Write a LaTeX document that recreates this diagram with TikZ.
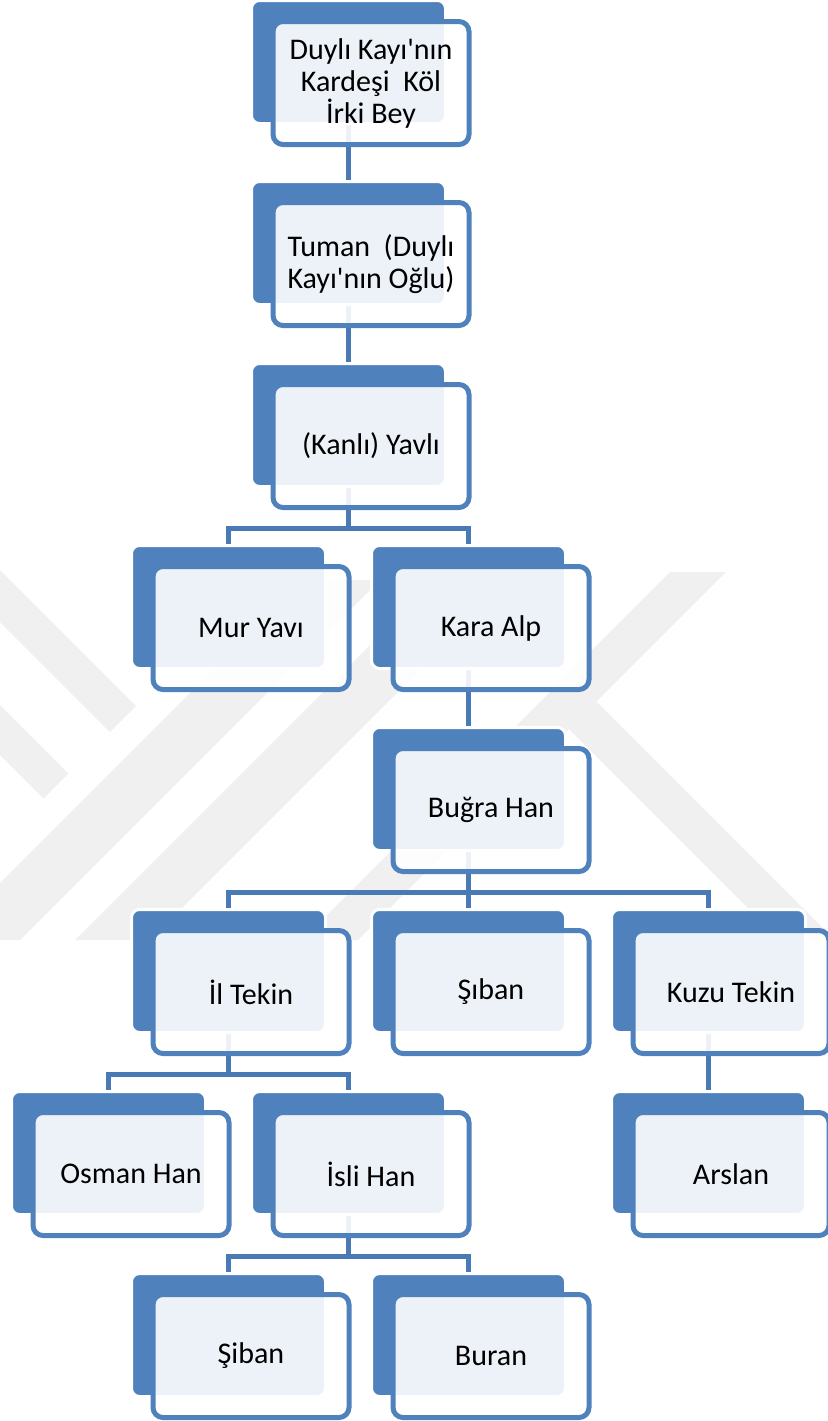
\documentclass[tikz,border=0pt]{standalone}
\usepackage{fontspec}
\setmainfont{Carlito}
\usetikzlibrary{backgrounds}

\definecolor{kayiblue}{HTML}{4F81BD}
\definecolor{kayiline}{HTML}{4A7AB5}
\definecolor{wmgrey}{HTML}{F0F0F0}

\tikzset{
  backbox/.style={rectangle, rounded corners=4pt, minimum width=97pt, minimum height=61.5pt,
    inner sep=0pt, fill=kayiblue, draw=white, line width=1.5pt},
  frontbox/.style={rectangle, rounded corners=5pt, minimum width=98pt, minimum height=61.5pt,
    inner sep=0pt, draw=kayiblue, line width=2.5pt, fill=white, fill opacity=0.9,
    text opacity=1, align=center, font=\fontsize{15}{16}\selectfont},
  link/.style={draw=kayiline, line width=2.5pt},
  wmark/.style={fill=wmgrey, draw=none},
}

\begin{document}
\begin{tikzpicture}[x=0.5pt,y=-0.5pt]
   \useasboundingbox (0,0) rectangle (827,1421);

   % the line of Duyli Kayi
   \node[backbox] (kolB) at (348.5,62) {};
   \node[frontbox] (kol) at (371,83) {Duylı Kayı\textquotesingle nın\\Kardeşi\ \ Köl\\İrki Bey};

   \node[backbox] (tumanB) at (348.5,243) {};
   \node[frontbox] (tuman) at (371,264) {Tuman\ \ (Duylı\\Kayı\textquotesingle nın Oğlu)};

   \node[backbox] (yavliB) at (348.5,425) {};
   \node[frontbox] (yavli) at (371,446) {(Kanlı) Yavlı};

   % sons of Yavli
   \node[backbox] (murB) at (228.5,607) {};
   \node[frontbox] (mur) at (251,628) {Mur Yavı};

   \node[backbox] (karaB) at (468.5,607) {};
   \node[frontbox] (kara) at (491,628) {Kara Alp};

   \node[backbox] (bugraB) at (468.5,789) {};
   \node[frontbox] (bugra) at (491,810) {Buğra Han};

   % sons of Bugra Han
   \node[backbox] (iltekinB) at (228.5,971) {};
   \node[frontbox] (iltekin) at (251,992) {İl Tekin};

   \node[backbox] (sibanB) at (468.5,971) {};
   \node[frontbox] (siban) at (491,992) {Şıban};

   \node[backbox] (kuzuB) at (708.5,971) {};
   \node[frontbox] (kuzu) at (731,992) {Kuzu Tekin};

   \node[backbox] (osmanB) at (108.5,1153) {};
   \node[frontbox] (osman) at (131,1174) {Osman Han};

   \node[backbox] (isliB) at (348.5,1153) {};
   \node[frontbox] (isli) at (371,1174) {İsli Han};

   \node[backbox] (arslanB) at (708.5,1153) {};
   \node[frontbox] (arslan) at (731,1174) {Arslan};

   \node[backbox] (sibanIIB) at (228.5,1335) {};
   \node[frontbox] (sibanII) at (251,1356) {Şiban};

   \node[backbox] (buranB) at (468.5,1335) {};
   \node[frontbox] (buran) at (491,1356) {Buran};

   \begin{scope}[on background layer]
      % faint watermark
      \begin{scope}
         \clip (0,560) rectangle (827,940);
         \fill[wmark] (0,570) -- (136,706) -- (110,732) -- (0,622) -- cycle;
         \fill[wmark] (0,705) -- (68.5,773.5) -- (43.5,798.5) -- (0,755) -- cycle;
         \fill[wmark] (883-940,940) -- (960-940,940) -- (960-580,580) -- (883-580,580) -- cycle;
         \fill[wmark] (1015-940,940) -- (1090-940,940) -- (1090-600,600) -- (1015-600,600) -- cycle;
         \fill[wmark] (1242-940,940) -- (1298-940,940) -- (1298-572,572) -- (1242-572,572) -- cycle;
         \fill[wmark] (569,729) -- (596.5,701.5) -- (835,940) -- (780,940) -- cycle;
      \end{scope}

      % connectors
      \draw[link] (kolB.center) -- (tumanB.center);
      \draw[link] (tumanB.center) -- (yavliB.center);

      \coordinate (jYavli) at (348.5,528);
      \draw[link] (yavliB.center) -- (jYavli) -| (murB.center);
      \draw[link] (jYavli) -| (karaB.center);

      \draw[link] (karaB.center) -- (bugraB.center);

      \coordinate (jBugra) at (468.5,892);
      \draw[link] (bugraB.center) -- (jBugra) -| (iltekinB.center);
      \draw[link] (jBugra) -- (sibanB.center);
      \draw[link] (jBugra) -| (kuzuB.center);

      \coordinate (jIltekin) at (228.5,1074);
      \draw[link] (iltekinB.center) -- (jIltekin) -| (osmanB.center);
      \draw[link] (jIltekin) -| (isliB.center);

      \draw[link] (kuzuB.center) -- (arslanB.center);

      \coordinate (jIsli) at (348.5,1256);
      \draw[link] (isliB.center) -- (jIsli) -| (sibanIIB.center);
      \draw[link] (jIsli) -| (buranB.center);
   \end{scope}

\end{tikzpicture}
\end{document}
